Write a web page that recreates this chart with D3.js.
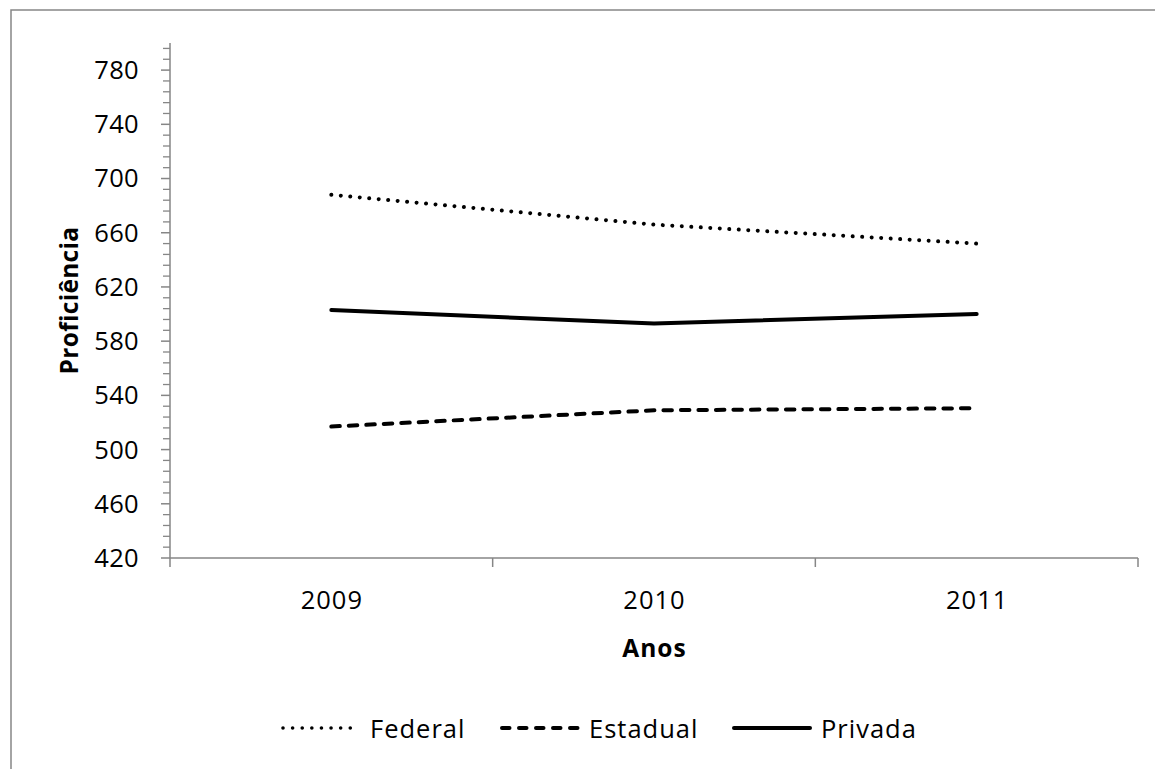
<!DOCTYPE html>
<html>
<head>
<meta charset="utf-8">
<script src="https://cdn.jsdelivr.net/npm/d3@7"></script>
<style>
  html, body { margin: 0; padding: 0; background: #fff; overflow: hidden; }
  text { font-family: "Open Sans", "Noto Sans", sans-serif; fill: #000; }
</style>
</head>
<body>
<svg id="chart" width="1155" height="769"></svg>
<script>
const categories = ["2009", "2010", "2011"];
const seriesNames = ["Federal", "Estadual", "Privada"];
const federal = [688, 666, 652];
const estadual = [517, 529, 530.5];
const privada = [603, 593, 600];
const yMajorTicks = [420, 460, 500, 540, 580, 620, 660, 700, 740, 780];
const yDomain = [420, 800];
const xTitle = "Anos";
const yTitle = "Proficiência";

(function () {
const seriesValues = [federal, estadual, privada];
const styles = [
  { dash: "0.01,9.5", cap: "round", width: 4, legDash: "0.01,9.6", legWidth: 3.6 },
  { dash: "8.5,9", cap: "round", width: 4, legDash: "7.5,9.5", legWidth: 4 },
  { dash: null, cap: "round", width: 4, legDash: null, legWidth: 4 }
];

const svg = d3.select("#chart");
const mLeft = 170, mRight = 1138, mTop = 43, mBottom = 558;
const axisColor = "#868686";

// outer frame
svg.append("rect").attr("x", 11).attr("y", 10).attr("width", 1200).attr("height", 800)
  .attr("fill", "none").attr("stroke", axisColor).attr("stroke-width", 1.5);

const x = d3.scaleBand().domain(categories).range([mLeft, mRight]).padding(0);
const y = d3.scaleLinear().domain(yDomain).range([mBottom, mTop]);

// minor ticks
const minorTicks = d3.range(yDomain[0] + 8, yDomain[1], 8).filter(v => (v - 420) % 40 !== 0);
const gAxisY = svg.append("g");
gAxisY.selectAll("line.minor").data(minorTicks).join("line").attr("class", "minor")
  .attr("x1", mLeft - 7).attr("x2", mLeft)
  .attr("y1", d => y(d)).attr("y2", d => y(d))
  .attr("stroke", axisColor).attr("stroke-width", 1.3);
gAxisY.selectAll("line.major").data(yMajorTicks).join("line").attr("class", "major")
  .attr("x1", mLeft - 9).attr("x2", mLeft)
  .attr("y1", d => y(d)).attr("y2", d => y(d))
  .attr("stroke", axisColor).attr("stroke-width", 1.5);
gAxisY.append("line").attr("x1", mLeft).attr("x2", mLeft).attr("y1", y(yDomain[1])).attr("y2", mBottom + 9)
  .attr("stroke", axisColor).attr("stroke-width", 1.5);
gAxisY.selectAll("text").data(yMajorTicks).join("text")
  .attr("x", 139).attr("y", d => y(d)).attr("dy", "0.35em")
  .attr("text-anchor", "end").attr("font-size", 25.5).attr("letter-spacing", "0.3px").text(d => d);

// x axis
const gAxisX = svg.append("g");
gAxisX.append("line").attr("x1", mLeft).attr("x2", mRight).attr("y1", mBottom).attr("y2", mBottom)
  .attr("stroke", axisColor).attr("stroke-width", 1.5);
const bounds = categories.map(c => x(c) + x.bandwidth());
gAxisX.selectAll("line.tick").data(bounds).join("line").attr("class", "tick")
  .attr("x1", d => d).attr("x2", d => d).attr("y1", mBottom).attr("y2", mBottom + 9)
  .attr("stroke", axisColor).attr("stroke-width", 1.5);
gAxisX.selectAll("text").data(categories).join("text")
  .attr("x", d => x(d) + x.bandwidth() / 2 + 0.5).attr("y", 609)
  .attr("text-anchor", "middle").attr("font-size", 25.5).attr("letter-spacing", "1px").text(d => d);

// titles
svg.append("text").attr("x", (mLeft + mRight) / 2 + 0.5).attr("y", 657)
  .attr("text-anchor", "middle").attr("font-size", 24.5).attr("font-weight", "bold")
  .attr("letter-spacing", "1px").text(xTitle);
svg.append("text").attr("transform", `translate(78,${(mTop + mBottom) / 2}) rotate(-90)`)
  .attr("text-anchor", "middle").attr("font-size", 24.5).attr("font-weight", "bold")
  .attr("letter-spacing", "0.3px").text(yTitle);

// lines
const line = d3.line().x((d, i) => x(categories[i]) + x.bandwidth() / 2).y(d => y(d));
seriesValues.forEach((vals, i) => {
  const p = svg.append("path").attr("d", line(vals)).attr("fill", "none")
    .attr("stroke", "#000").attr("stroke-width", styles[i].width)
    .attr("stroke-linecap", styles[i].cap).attr("stroke-linejoin", "round");
  if (styles[i].dash) p.attr("stroke-dasharray", styles[i].dash);
});

// legend
const legendItems = [
  { x1: 283, x2: 358, tx: 370 },
  { x1: 502, x2: 578, tx: 589 },
  { x1: 734, x2: 810, tx: 821 }
];
const legY = 728;
seriesNames.forEach((name, i) => {
  const it = legendItems[i];
  const l = svg.append("line").attr("x1", it.x1).attr("x2", it.x2).attr("y1", legY).attr("y2", legY)
    .attr("stroke", "#000").attr("stroke-width", styles[i].legWidth).attr("stroke-linecap", "round");
  if (styles[i].legDash) l.attr("stroke-dasharray", styles[i].legDash);
  svg.append("text").attr("x", it.tx).attr("y", 738).attr("font-size", 25.5)
    .attr("letter-spacing", "1px").text(name);
});
})();
</script>
</body>
</html>
